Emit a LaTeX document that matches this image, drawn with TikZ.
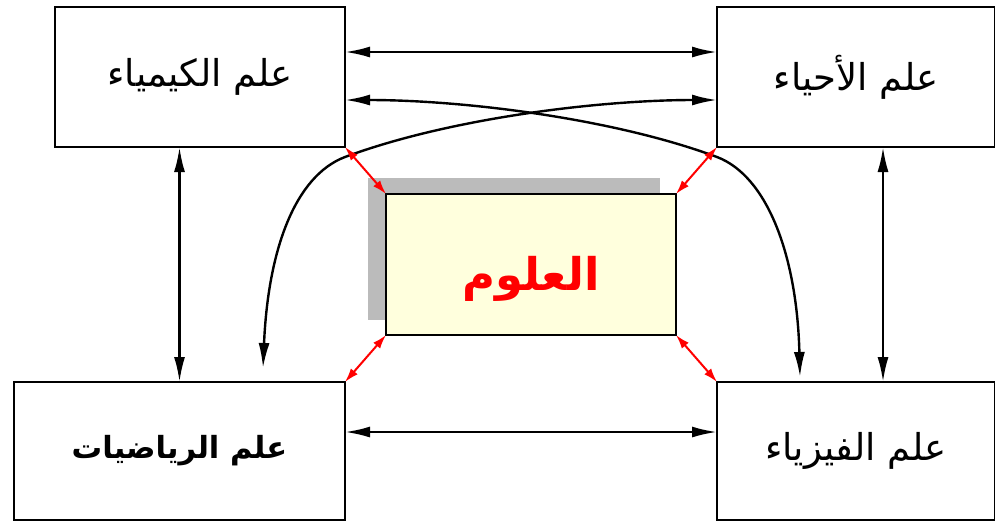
\documentclass[tikz,border=0pt]{standalone}
\usepackage{fontspec}
\usetikzlibrary{arrows.meta}
\TeXXeTstate=1
\newfontfamily\arabicfont[Script=Arabic]{DejaVu Sans}
\definecolor{shadowgray}{HTML}{BBBBBB}
\definecolor{paleyellow}{HTML}{FFFFDD}
\tikzset{
  box/.style={draw=black, line width=1.4pt, fill=white, inner sep=0pt, outer sep=0pt, font=\arabicfont\fontsize{37}{44}\selectfont},
  conn/.style={line width=2.4pt, {Latex[length=25pt,width=11pt]}-{Latex[length=25pt,width=11pt]}},
  rconn/.style={draw=red, line width=2pt, {Latex[length=14pt,width=9pt]}-{Latex[length=14pt,width=9pt]}},
}
\begin{document}
\begin{tikzpicture}[x=1pt,y=-1pt]
\useasboundingbox (0,0) rectangle (995,523);
% boxes
\node[box, minimum width=290pt, minimum height=140pt, anchor=north west] (tl) at (55,7) {\beginR علم الكيمياء\endR};
\node[box, minimum width=278pt, minimum height=140pt, anchor=north west] (tr) at (717,7) {\beginR علم الأحياء\endR};
\node[box, minimum width=331pt, minimum height=138pt, anchor=north west] (bl) at (14,382) {\bfseries\fontsize{30.5}{36}\selectfont\beginR علم الرياضيات\endR};
\node[box, minimum width=278pt, minimum height=138pt, anchor=north west] (br) at (717,382) {\beginR علم الفيزياء\endR};
% shadow and centre
\fill[shadowgray] (368,178) rectangle (660,320);
\node[box, fill=paleyellow, minimum width=290pt, minimum height=141pt, anchor=north west] (c) at (386,194) {};
\node[text=red, inner sep=0pt, font=\arabicfont\bfseries\fontsize{45}{54}\selectfont] (ctitle) at ([yshift=-14pt]c.center) {\beginR العلوم\endR};
% free ends of curved connectors
\coordinate (blend) at (263,368);
\coordinate (brend) at (800,377);
% straight connectors
\draw[conn] ([yshift=25pt]tl.east) -- ([yshift=25pt]tr.west);
\draw[conn] ([yshift=19pt]bl.east) -- ([yshift=19pt]br.west);
\draw[conn] (tl.south -| bl.north) -- (bl.north);
\draw[conn] ([xshift=27pt]tr.south -| br.north) -- ([xshift=27pt]br.north);
% curved connectors
\draw[conn] ([yshift=-23pt]tr.west) .. controls (600,100) and (450,118) .. (345,157)
            .. controls (295,176) and (268,250) .. (blend);
\draw[conn] ([yshift=-23pt]tl.east) .. controls (462,100) and (612,118) .. (717,157)
            .. controls (767,176) and (797,255) .. (brend);
% red connectors
\draw[rconn] (tl.south east) -- (c.north west);
\draw[rconn] (tr.south west) -- (c.north east);
\draw[rconn] (bl.north east) -- (c.south west);
\draw[rconn] (br.north west) -- (c.south east);
\end{tikzpicture}
\end{document}
